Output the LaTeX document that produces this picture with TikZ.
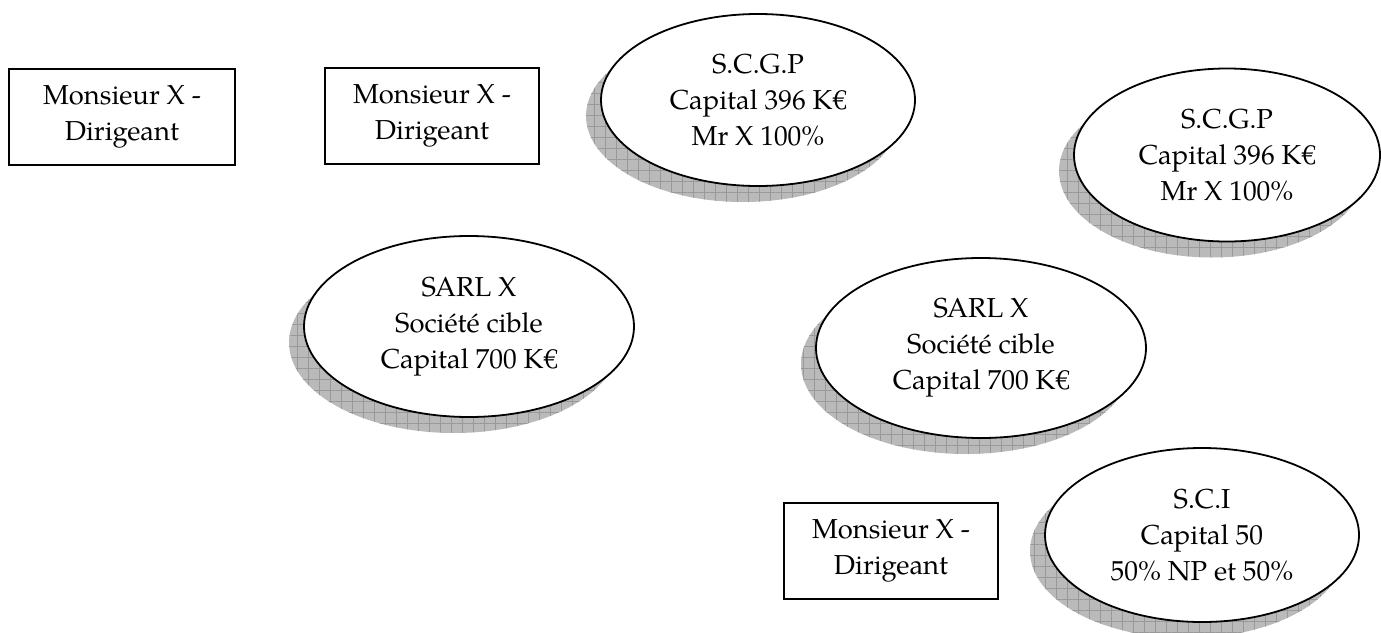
\documentclass[tikz,border=0pt]{standalone}
\usepackage{fontspec}
\setmainfont{texgyrepagella-regular.otf}
\usepackage{tikz}
\usetikzlibrary{shapes,shadows,patterns.meta}
\tikzstyle{personne}=[rectangle,draw,line width=1pt,fill=white,align=center,inner sep=0pt,minimum height=48pt]
\tikzstyle{entite}=[ellipse,draw,line width=0.9pt,fill=white,align=center,inner sep=0pt,
    general shadow={shadow xshift=-7.5pt,shadow yshift=-8pt,fill=black!27},
    general shadow={shadow xshift=-7.5pt,shadow yshift=-8pt,pattern={Hatch[angle=0,distance=5.5pt,line width=0.35pt]},pattern color=black!40}]

\begin{document}
\begin{tikzpicture}[x=0.5pt,y=-0.5pt,font=\fontsize{13.7}{18}\selectfont]
    \useasboundingbox (0,0) rectangle (1381,632);

    \foreach \pos/\name/\w in {{(122,116.5)/dir1/113pt}, {(432,115.5)/dir2/107pt}, {(891,551)/dir3/107pt}}
        \node[personne, minimum width=\w] (\name) at \pos {Monsieur X -\\Dirigeant};

    \node[entite, minimum width=157pt, minimum height=86pt] (scgp1) at (758,100) {S.C.G.P\\Capital 396 K€\\Mr X 100\%};
    \node[entite, minimum width=153pt, minimum height=86.5pt] (scgp2) at (1227,155) {S.C.G.P\\Capital 396 K€\\Mr X 100\%};
    \node[entite, minimum width=165pt, minimum height=90.5pt] (sarl1) at (469,326.5) {SARL X\\Société cible\\Capital 700 K€};
    \node[entite, minimum width=165pt, minimum height=90pt] (sarl2) at (981,348) {SARL X\\Société cible\\Capital 700 K€};
    \node[entite, minimum width=157pt, minimum height=87pt] (sci) at (1202,535) {S.C.I\\Capital 50\\50\% NP et 50\%};

\end{tikzpicture}
\end{document}
